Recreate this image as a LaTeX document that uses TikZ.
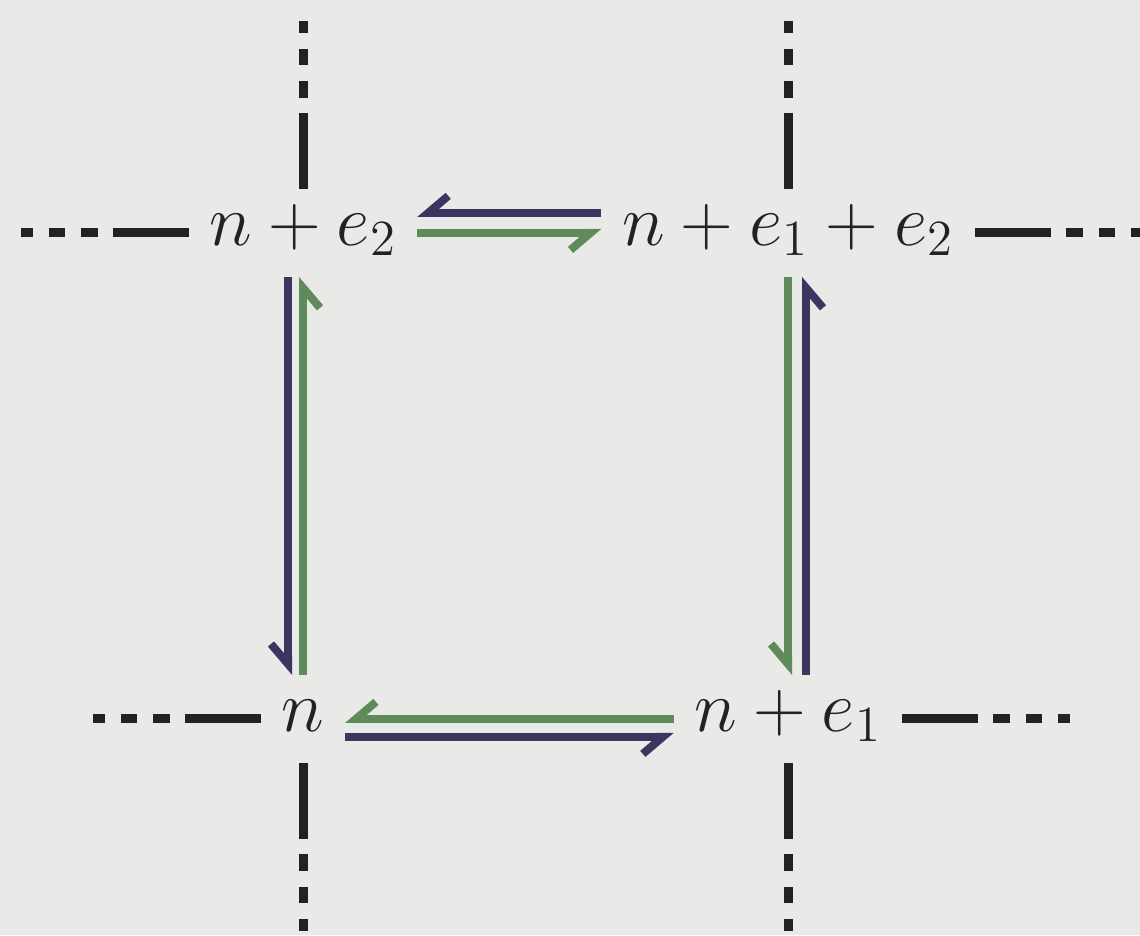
\documentclass[tikz,border=0pt]{standalone}
\usetikzlibrary{arrows.meta}
\definecolor{bg}{HTML}{E9EAE7}
\definecolor{navy}{HTML}{3B3560}
\definecolor{grn}{HTML}{5F8A5A}
\definecolor{ink}{HTML}{222222}
\begin{document}
\begin{tikzpicture}[x=0.01cm,y=-0.01cm,
  lbl/.style={text=ink, font=\fontsize{20}{24}\selectfont, inner xsep=0.2cm, inner ysep=0.15cm,
    text height=11.5pt, text depth=4.6pt, anchor=base},
  grid/.style={draw=ink, line width=0.09cm, line cap=butt,
    dash pattern=on 0.76cm off 0.15cm on 0.17cm off 0.16cm on 0.16cm off 0.16cm on 0.12cm off 3cm},
  bluearr/.style={draw=navy, line width=0.08cm, -{Straight Barb[right,length=0.2cm,width=0.34cm]}},
  grnarr/.style={draw=grn, line width=0.08cm, -{Straight Barb[right,length=0.2cm,width=0.34cm]}}]
\fill[bg] (0,0) rectangle (1140,935);
\useasboundingbox (0,0) rectangle (1140,935);
% nodes
\node[lbl] (ne2)  at (303,245) {$n+e_2$};
\node[lbl] (ne12) at (788,245) {$n+e_1+e_2$};
\node[lbl] (n)    at (303,731) {$n$};
\node[lbl] (ne1)  at (788,731) {$n+e_1$};
% free ends of the lattice lines
\coordinate (xTL) at (18,0);
\coordinate (xTR) at (1140,0);
\coordinate (xBL) at (88,0);
\coordinate (xBR) at (1075,0);
\coordinate (yT)  at (0,17);
\coordinate (yB)  at (0,935);
% lattice lines
\draw[grid] (ne2.west) -- (ne2.west -| xTL);
\draw[grid] (ne2.north) -- (ne2.north |- yT);
\draw[grid] (ne12.north) -- (ne12.north |- yT);
\draw[grid] (ne12.east) -- (ne12.east -| xTR);
\draw[grid] (n.west) -- (n.west -| xBL);
\draw[grid] (n.south) -- (n.south |- yB);
\draw[grid] (ne1.east) -- (ne1.east -| xBR);
\draw[grid] (ne1.south) -- (ne1.south |- yB);
% top pair
\draw[bluearr] ([yshift=0.2cm]ne12.west) -- ([yshift=0.2cm]ne2.east);
\draw[grnarr] (ne2.east) -- (ne12.west);
% left pair
\draw[bluearr] ([xshift=-0.15cm]ne2.south) -- ([xshift=-0.15cm]n.north);
\draw[grnarr] (n.north) -- (ne2.south);
% right pair
\draw[grnarr] (ne12.south) -- (ne1.north);
\draw[bluearr] ([xshift=0.18cm]ne1.north) -- ([xshift=0.18cm]ne12.south);
% bottom pair
\draw[grnarr] (ne1.west) -- (n.east);
\draw[bluearr] ([yshift=-0.18cm]n.east) -- ([yshift=-0.18cm]ne1.west);
\end{tikzpicture}
\end{document}
